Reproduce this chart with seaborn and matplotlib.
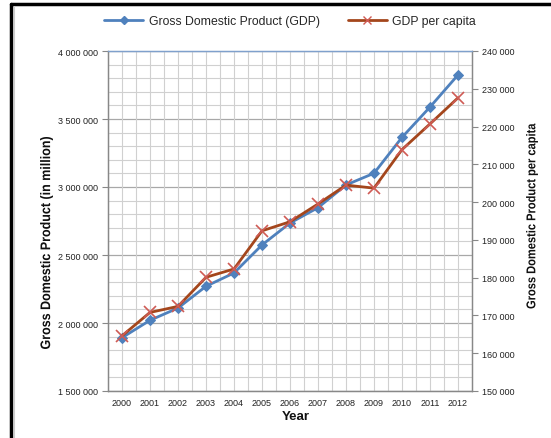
import matplotlib
matplotlib.use("Agg")
import matplotlib.pyplot as plt
import matplotlib.transforms as mtransforms
from matplotlib.lines import Line2D
from matplotlib.patches import PathPatch
from matplotlib.textpath import TextPath
from matplotlib.font_manager import FontProperties
from matplotlib.ticker import FuncFormatter, MultipleLocator, FixedLocator
import seaborn as sns
import pandas as pd

years = [2000, 2001, 2002, 2003, 2004, 2005, 2006, 2007, 2008, 2009, 2010, 2011, 2012]
gdp = [1892000, 2020000, 2110000, 2270000, 2368000, 2574000, 2735000,
       2848000, 3015000, 3101000, 3365000, 3588000, 3824000]
gdp_per_capita = [164600, 170800, 172400, 180100, 182300, 192400, 194800,
                  199500, 204500, 203700, 213900, 220700, 227600]

df = pd.DataFrame({"pos": range(len(years)), "gdp": gdp, "gdppc": gdp_per_capita})

sns.set_style("white")
plt.rcParams["font.family"] = ["Liberation Sans", "DejaVu Sans"]

BLUE = "#4F81BD"
BROWN = "#A4461C"
RED = "#CF5B55"
GRID = "#D0D0D0"
MAJOR = "#A8A8A8"

W, H, DPI = 551, 439, 100
fig = plt.figure(figsize=(W / DPI, H / DPI), dpi=DPI)
ax = fig.add_axes([108 / W, 1 - 392 / H, 364 / W, 340 / H])
ax2 = ax.twinx()

# gridlines: minor every 100 000, major every 500 000; verticals at category edges and centres
ax.set_ylim(1500000, 4000000)
ax.set_xlim(-0.5, len(years) - 0.5)
for v in range(1500000, 4000001, 100000):
    major = v % 500000 == 0
    ax.axhline(v, color=MAJOR if major else GRID, lw=0.9 if major else 0.8, zorder=0)
for i in range(len(years)):
    ax.axvline(i, color=GRID, lw=0.8, zorder=0)
    ax.axvline(i - 0.5, color=GRID, lw=0.8, zorder=0)

sns.lineplot(data=df, x="pos", y="gdp", ax=ax, color=BLUE, lw=2.0,
             marker="D", markersize=5, markeredgecolor=BLUE, zorder=3, legend=False)
ax2.set_ylim(150000, 240000)
sns.lineplot(data=df, x="pos", y="gdppc", ax=ax2, color=BROWN, lw=2.0,
             marker="x", markersize=9, markeredgewidth=1.2, markeredgecolor=RED,
             zorder=3, legend=False)

fmt = FuncFormatter(lambda v, p: f"{int(v):,}".replace(",", " "))
ax.yaxis.set_major_locator(MultipleLocator(500000))
ax.yaxis.set_major_formatter(fmt)
ax2.yaxis.set_major_locator(MultipleLocator(10000))
ax2.yaxis.set_major_formatter(fmt)

ax.set_xticks(range(len(years)))
ax.set_xticklabels([str(y) for y in years])
ax.xaxis.set_minor_locator(FixedLocator([i - 0.5 for i in range(len(years) + 1)]))
ax.tick_params(axis="x", which="major", length=0, labelsize=6.5, pad=5, colors="#222222")
ax.tick_params(axis="x", which="minor", length=4, color="#888888", direction="out")
ax.tick_params(axis="y", length=4, color="#888888", direction="out", labelsize=6.5,
               pad=3, colors="#222222")
ax2.tick_params(axis="y", length=4, color="#888888", direction="out", labelsize=6.5,
                pad=3, colors="#222222")
for t in ax.get_yticklabels() + ax2.get_yticklabels():
    t.set_color("#222222")

for a in (ax, ax2):
    for s in ("left", "right", "bottom"):
        a.spines[s].set_color("#888888")
        a.spines[s].set_linewidth(0.9)
    a.spines["top"].set_color("#7FA0CC")
    a.spines["top"].set_linewidth(0.9)
    a.set_xlabel("")
    a.set_ylabel("")


def narrow_vertical_label(text, cx, cy, size, length_px, color="#111111"):
    """Bold rotated label, squeezed along its baseline to a given length (pixels)."""
    prop = FontProperties(family="Liberation Sans", weight="bold")
    tp = TextPath((0, 0), text, size=size, prop=prop)
    ext = tp.get_extents()
    natural_px = ext.width * DPI / 72
    sx = length_px / natural_px
    tr = (mtransforms.Affine2D()
          .translate(-(ext.x0 + ext.x1) / 2, -(ext.y0 + ext.y1) / 2)
          .scale(sx / 72, 1 / 72)
          .rotate_deg(90)
          .translate(cx / DPI, (H - cy) / DPI)
          + fig.dpi_scale_trans)
    fig.add_artist(PathPatch(tp, transform=tr, facecolor=color, edgecolor="none", lw=0))


fig.text(296 / W, 1 - 417 / H, "Year", ha="center", va="center",
         fontsize=9.5, fontweight="bold", color="#111111")
narrow_vertical_label("Gross Domestic Product (in million)", 46.5, 244, 10.0, 212)
narrow_vertical_label("Gross Domestic Product per capita", 532, 217, 9.2, 185)

handles = [
    Line2D([], [], color=BLUE, lw=2.0, marker="D", markersize=4),
    Line2D([], [], color=BROWN, lw=2.0, marker="x", markersize=6,
           markeredgecolor=RED, markeredgewidth=1.0),
]
fig.legend(handles, ["Gross Domestic Product (GDP)", "GDP per capita"],
           loc="center", bbox_to_anchor=(290 / W, 1 - 22 / H), ncol=2,
           frameon=False, fontsize=8.8, handlelength=3.2, columnspacing=2.3,
           handletextpad=0.45)

# outer frame of the figure
fig.add_artist(Line2D([11 / W, 11 / W], [0, 1 - 5 / H], transform=fig.transFigure,
                      color="black", lw=2.5))
fig.add_artist(Line2D([11 / W, 1], [1 - 5 / H, 1 - 5 / H], transform=fig.transFigure,
                      color="black", lw=2.5))
fig.add_artist(Line2D([13.5 / W, 13.5 / W], [0, 1 - 7 / H], transform=fig.transFigure,
                      color="#CCCCCC", lw=0.8))

fig.savefig("out.png", dpi=DPI)
